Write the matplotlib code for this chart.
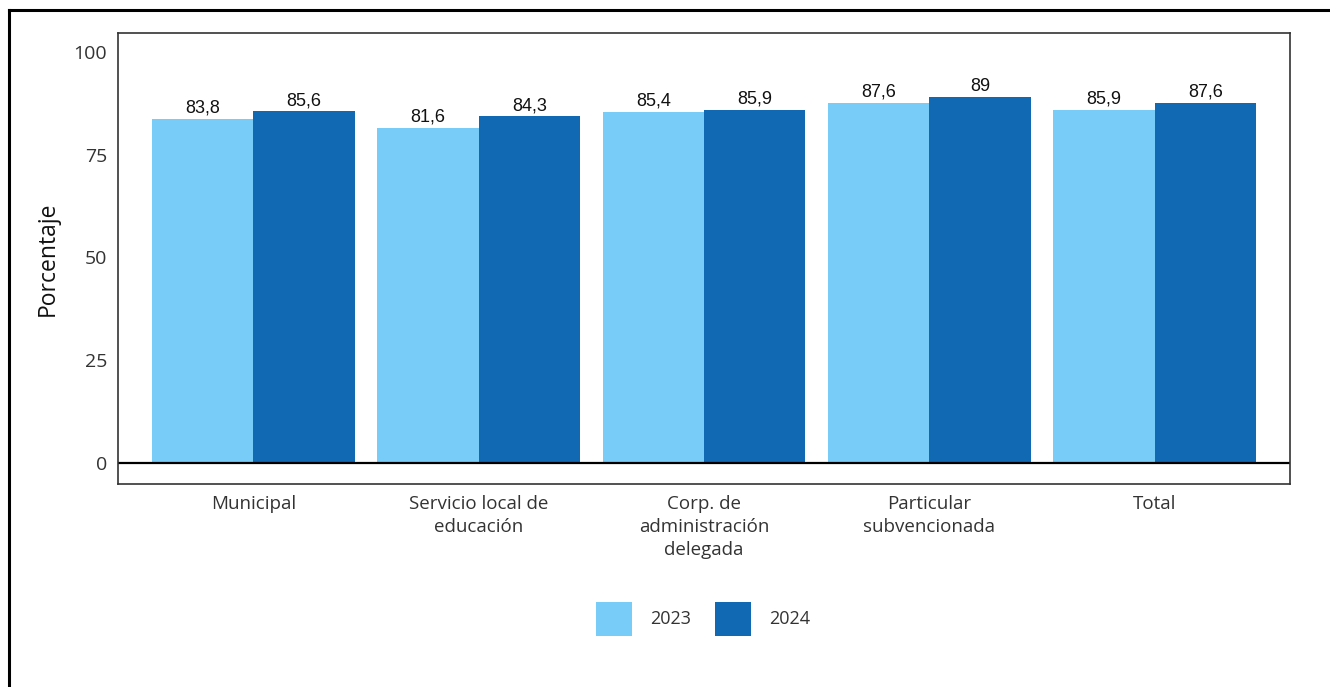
import matplotlib
matplotlib.use("Agg")
import matplotlib.pyplot as plt
import numpy as np
from matplotlib.lines import Line2D
from matplotlib.patches import Patch

categories = ["Municipal", "Servicio local de\neducación", "Corp. de\nadministración\ndelegada",
              "Particular\nsubvencionada", "Total"]
series_2023 = [83.8, 81.6, 85.4, 87.6, 85.9]
series_2024 = [85.6, 84.3, 85.9, 89.0, 87.6]
labels_2023 = ["83,8", "81,6", "85,4", "87,6", "85,9"]
labels_2024 = ["85,6", "84,3", "85,9", "89", "87,6"]
years = ["2023", "2024"]

c23 = "#77CDF7"
c24 = "#1169B3"

fig = plt.figure(figsize=(13.3, 6.87), dpi=100)
ax = fig.add_axes([118/1330, 1-484/687, (1290-118)/1330, (484-33)/687])

x = np.arange(len(categories))
w = 0.45
b1 = ax.bar(x - w/2, series_2023, w, color=c23, label=years[0])
b2 = ax.bar(x + w/2, series_2024, w, color=c24, label=years[1])

for bars, labs in ((b1, labels_2023), (b2, labels_2024)):
    for b, t in zip(bars, labs):
        ax.annotate(t, (b.get_x() + b.get_width()/2, b.get_height()), xytext=(0, 1.5),
                    textcoords="offset points", ha="center", va="bottom",
                    fontsize=13, family="Liberation Sans", color="#111111")

ax.set_xlim(-0.6, 4.6)
ax.set_ylim(-5.1, 104.6)
ax.set_yticks([0, 25, 50, 75, 100])
ax.set_xticks(x)
ax.set_xticklabels(categories, family="Open Sans", fontsize=13.5, color="#333333", linespacing=1.35)
for lab in ax.get_yticklabels():
    lab.set_family("Open Sans"); lab.set_fontsize(14); lab.set_color("#333333")
ax.tick_params(length=0)
ax.tick_params(axis="y", pad=8)
ax.tick_params(axis="x", pad=8)
ax.axhline(0, color="black", lw=1.6)
for s in ax.spines.values():
    s.set_color("#333333"); s.set_linewidth(1.2)
ax.set_ylabel("Porcentaje", family="Open Sans", fontsize=16.5, color="#111111", labelpad=10)

handles = [Patch(facecolor=c23), Patch(facecolor=c24)]
fig.legend(handles, years, loc="center", bbox_to_anchor=(703/1330, 1-619/687), ncol=2,
           frameon=False, prop={"family": "Open Sans", "size": 13},
           handlelength=2.0, handleheight=2.6, columnspacing=1.3, handletextpad=1.0,
           labelcolor="#333333")

fig.add_artist(Line2D([9/1330, 1], [1-10/687, 1-10/687], color="black", lw=2.2, transform=fig.transFigure))
fig.add_artist(Line2D([9/1330, 9/1330], [0, 1-10/687], color="black", lw=2.2, transform=fig.transFigure))

fig.savefig("out.png", dpi=100)
